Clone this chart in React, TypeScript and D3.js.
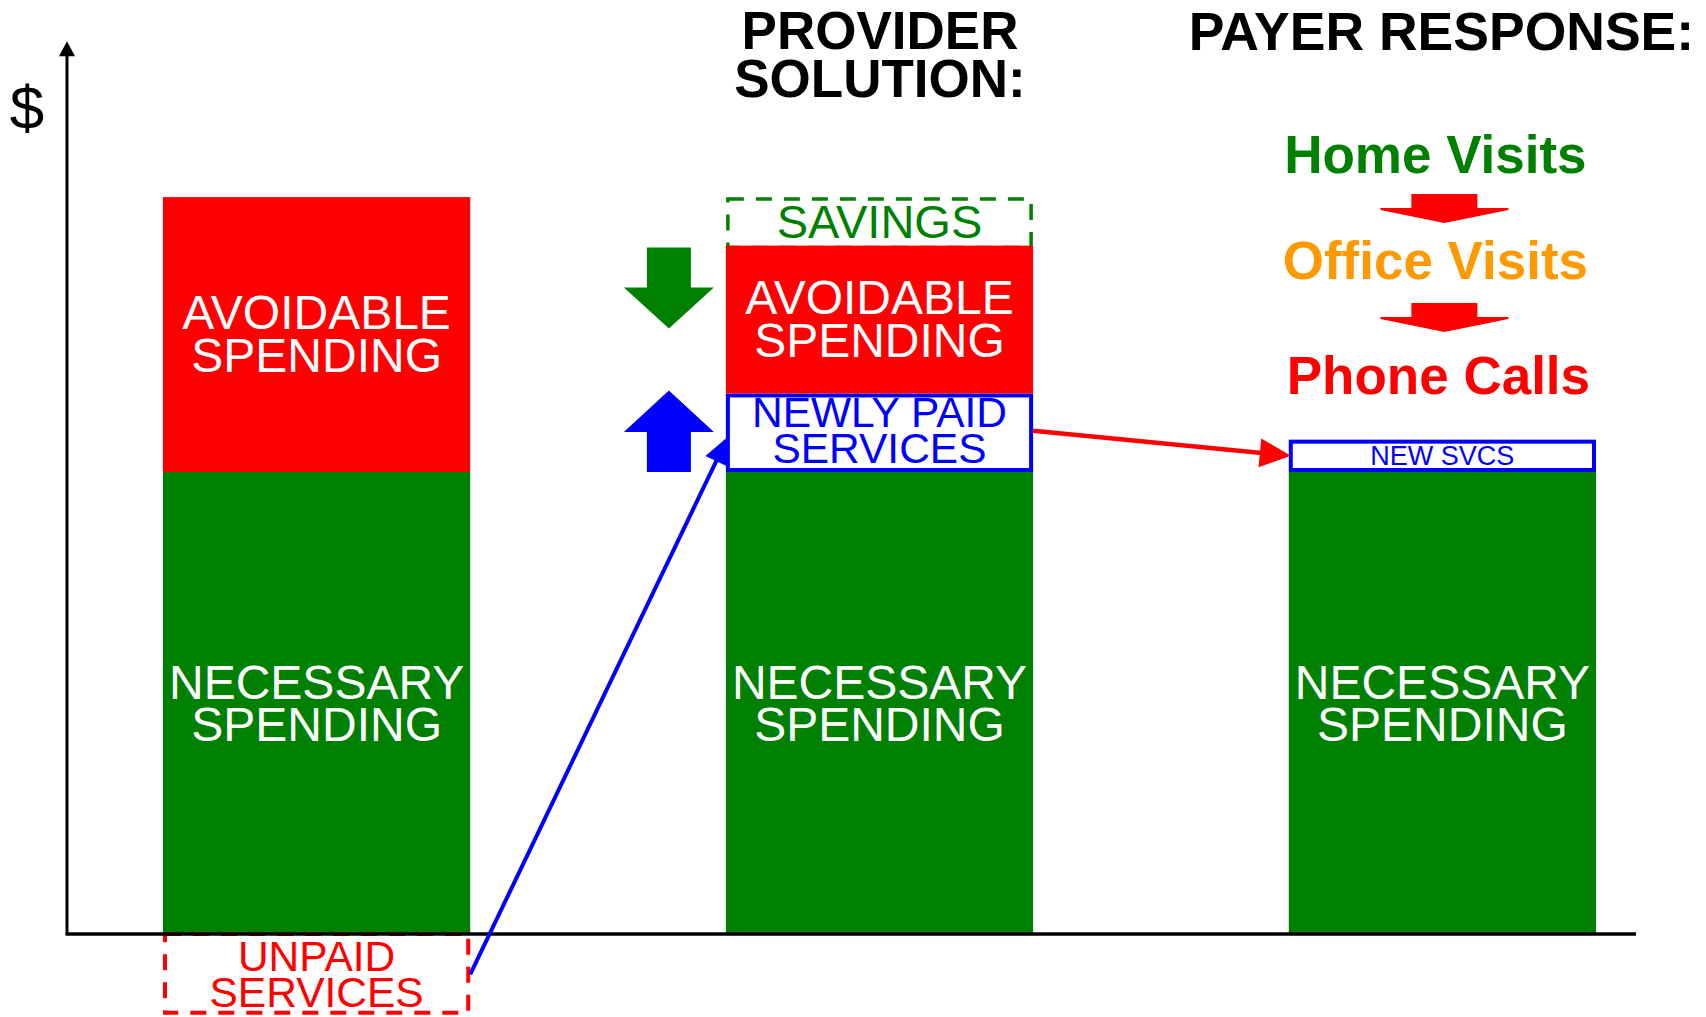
import React from "react";
import * as d3 from "d3";

// ---- data ----
const categories = ["Current", "Provider Solution", "Payer Response"];
const necessarySpending = [100, 100, 100];
const newlyPaidServices = [0, 17, 7];
const avoidableSpending = [59.5, 32, 0];
const savings = [0, 10.5, 0];
const unpaidServices = [17.5, 0, 0];
const yAxisMax = 193;

const titles = [
  { lines: ["PROVIDER", "SOLUTION:"], cat: 1 },
  { lines: ["PAYER RESPONSE:"], cat: 2 },
];
const payerSteps = ["Home Visits", "Office Visits", "Phone Calls"];
const payerColors = ["#008000", "#FF9900", "#FF0000"];

const W = 1706;
const H = 1017;
const FONT = "'Liberation Sans', Arial, Helvetica, sans-serif";
const RED = "#FF0000";
const GREEN = "#008000";
const BLUE = "#0000FF";

const x = d3
  .scaleBand<string>()
  .domain(categories)
  .range([163, 1596])
  .paddingInner(0.4542)
  .paddingOuter(0);
const y = d3.scaleLinear().domain([0, 100]).range([934, 472]);

function Label({
  cx,
  cy,
  lines,
  fs,
  lh,
  fill,
  weight = "normal",
}: {
  cx: number;
  cy: number;
  lines: string[];
  fs: number;
  lh: number;
  fill: string;
  weight?: string;
}) {
  const cap = 0.716 * fs;
  const b0 = cy + cap / 2 - ((lines.length - 1) * lh) / 2;
  return (
    <text
      x={cx}
      y={b0}
      textAnchor="middle"
      fontSize={fs}
      fontWeight={weight}
      fontFamily={FONT}
      fill={fill}
    >
      {lines.map((t, i) => (
        <tspan key={i} x={cx} dy={i === 0 ? 0 : lh}>
          {t}
        </tspan>
      ))}
    </text>
  );
}

function arrow(x1: number, y1: number, x2: number, y2: number, len: number, hw: number) {
  const dx = x2 - x1;
  const dy = y2 - y1;
  const L = Math.hypot(dx, dy);
  const ux = dx / L;
  const uy = dy / L;
  const bx = x2 - ux * len;
  const by = y2 - uy * len;
  const px = -uy;
  const py = ux;
  return {
    line: `M${x1},${y1}L${bx + ux * 2},${by + uy * 2}`,
    head: `M${x2},${y2}L${bx + px * hw},${by + py * hw}L${bx - px * hw},${by - py * hw}Z`,
  };
}

function blockArrow(cx: number, yStart: number, yHead: number, yTip: number, shw: number, hhw: number) {
  return `M${cx - shw},${yStart}L${cx + shw},${yStart}L${cx + shw},${yHead}L${cx + hhw},${yHead}L${cx},${yTip}L${cx - hhw},${yHead}L${cx - shw},${yHead}Z`;
}

function flatArrow(cx: number, yTop: number, yHead: number, yTip: number) {
  const shw = 33;
  const hhw = 64;
  return `M${cx - shw},${yTop}L${cx + shw},${yTop}L${cx + shw},${yHead}L${cx + hhw},${yHead}L${cx + hhw},${yHead + 2}L${cx},${yTip}L${cx - hhw},${yHead + 2}L${cx - hhw},${yHead}L${cx - shw},${yHead}Z`;
}

export default function App() {
  const bw = x.bandwidth();
  const bars = categories.map((c, i) => {
    const x0 = x(c) as number;
    const n0 = 0;
    const n1 = necessarySpending[i];
    const p1 = n1 + newlyPaidServices[i];
    const a1 = p1 + avoidableSpending[i];
    const s1 = a1 + savings[i];
    return { c, i, x0, cx: x0 + bw / 2, n0, n1, p1, a1, s1 };
  });

  const b1 = bars[0];
  const b2 = bars[1];
  const b3 = bars[2];

  const blueStart = { x: b1.x0 + bw, y: (y(0) + y(-unpaidServices[0])) / 2 };
  const blueEnd = { x: b2.x0 + 2, y: (y(b2.n1) + y(b2.p1)) / 2 + 4 };
  const blueArrow = arrow(blueStart.x, blueStart.y, blueEnd.x, blueEnd.y, 27, 12);
  const redStart = { x: b2.x0 + bw, y: (y(b2.n1) + y(b2.p1)) / 2 - 2 };
  const redEnd = { x: b3.x0 + 2, y: (y(b3.n1) + y(b3.p1)) / 2 };
  const redArrow = arrow(redStart.x, redStart.y, redEnd.x, redEnd.y, 31, 14.5);

  const blockX = b2.x0 - 57;
  const colX = b3.cx - 7;

  return (
    <svg
      width={W}
      height={H}
      viewBox={`0 0 ${W} ${H}`}
      style={{ position: "absolute", left: 0, top: 0, display: "block", background: "#fff" }}
    >
      <rect x={0} y={0} width={W} height={H} fill="#fff" />

      {/* bars */}
      {bars.map((b) => (
        <g key={b.c}>
          <rect x={b.x0} y={y(b.n1)} width={bw} height={y(b.n0) - y(b.n1)} fill={GREEN} />
          {newlyPaidServices[b.i] > 0 && (
            <rect
              x={b.x0 + 2}
              y={y(b.p1) + 2}
              width={bw - 4}
              height={y(b.n1) - y(b.p1) - 4}
              fill="#fff"
              stroke={BLUE}
              strokeWidth={4}
            />
          )}
          {savings[b.i] > 0 && (
            <rect
              x={b.x0 + 2}
              y={y(b.s1) + 2}
              width={bw - 4}
              height={y(b.a1) - y(b.s1)}
              fill="#fff"
              stroke={GREEN}
              strokeWidth={3.5}
              strokeDasharray="16 12"
            />
          )}
          {avoidableSpending[b.i] > 0 && (
            <rect x={b.x0} y={y(b.a1)} width={bw} height={y(b.p1) - y(b.a1)} fill={RED} />
          )}
          {unpaidServices[b.i] > 0 && (
            <rect
              x={b.x0 + 2}
              y={y(0)}
              width={bw - 4}
              height={y(-unpaidServices[b.i]) - y(0) - 2}
              fill="#fff"
              stroke={RED}
              strokeWidth={4}
              strokeDasharray="16 12"
            />
          )}
        </g>
      ))}

      {/* axes */}
      <line x1={67} y1={y(0)} x2={67} y2={y(yAxisMax) + 12} stroke="#000" strokeWidth={3} />
      <path d={`M67,${y(yAxisMax) - 1}L75,${y(yAxisMax) + 14}L59,${y(yAxisMax) + 14}Z`} fill="#000" />
      <line x1={65.5} y1={y(0)} x2={1636} y2={y(0)} stroke="#000" strokeWidth={3.5} />
      <text x={27} y={129} textAnchor="middle" fontSize={62} fontFamily={FONT} fill="#000">
        $
      </text>

      {/* bar labels */}
      {bars.map((b) => (
        <g key={"l" + b.c}>
          <Label
            cx={b.cx}
            cy={(y(b.n0) + y(b.n1)) / 2}
            lines={["NECESSARY", "SPENDING"]}
            fs={48}
            lh={42}
            fill="#fff"
          />
          {avoidableSpending[b.i] > 0 && (
            <Label
              cx={b.cx}
              cy={(y(b.p1) + y(b.a1)) / 2 - 1}
              lines={["AVOIDABLE", "SPENDING"]}
              fs={48}
              lh={43}
              fill="#fff"
            />
          )}
        </g>
      ))}
      <Label
        cx={b2.cx}
        cy={(y(b2.n1) + y(b2.p1)) / 2 - 3}
        lines={["NEWLY PAID", "SERVICES"]}
        fs={42.5}
        lh={36}
        fill={BLUE}
      />
      <Label cx={b3.cx} cy={(y(b3.n1) + y(b3.p1)) / 2} lines={["NEW SVCS"]} fs={27} lh={27} fill={BLUE} />
      <Label cx={b2.cx} cy={(y(b2.a1) + y(b2.s1)) / 2} lines={["SAVINGS"]} fs={47} lh={47} fill={GREEN} />
      <Label
        cx={b1.cx}
        cy={(y(0) + y(-unpaidServices[0])) / 2 - 1}
        lines={["UNPAID", "SERVICES"]}
        fs={42.5}
        lh={36}
        fill={RED}
      />

      {/* block arrows */}
      <path d={blockArrow(blockX, y(b2.a1) + 2, y(b2.a1) + 42, y(b2.a1) + 83, 22, 45)} fill={GREEN} />
      <path d={blockArrow(blockX, y(b2.n1), y(b2.n1) - 40, y(b2.p1) - 3, 22, 45)} fill={BLUE} />

      {/* connectors */}
      <path d={blueArrow.line} stroke={BLUE} strokeWidth={4} fill="none" />
      <path d={blueArrow.head} fill={BLUE} />
      <path d={redArrow.line} stroke={RED} strokeWidth={4.5} fill="none" />
      <path d={redArrow.head} fill={RED} />

      {/* titles */}
      <Label cx={880} cy={54} lines={titles[0].lines} fs={53} lh={48} fill="#000" weight="bold" />
      <Label cx={b3.cx - 1} cy={31} lines={titles[1].lines} fs={53.5} lh={53} fill="#000" weight="bold" />

      {/* payer response steps */}
      {payerSteps.map((s, i) => (
        <Label
          key={s}
          cx={colX + (i === 2 ? 3 : 0)}
          cy={[154, 260, 375][i]}
          lines={[s]}
          fs={53}
          lh={53}
          fill={payerColors[i]}
          weight="bold"
        />
      ))}
      <path d={flatArrow(colX + 9, 194, 208, 223)} fill={RED} />
      <path d={flatArrow(colX + 9, 303, 317, 332)} fill={RED} />
    </svg>
  );
}
